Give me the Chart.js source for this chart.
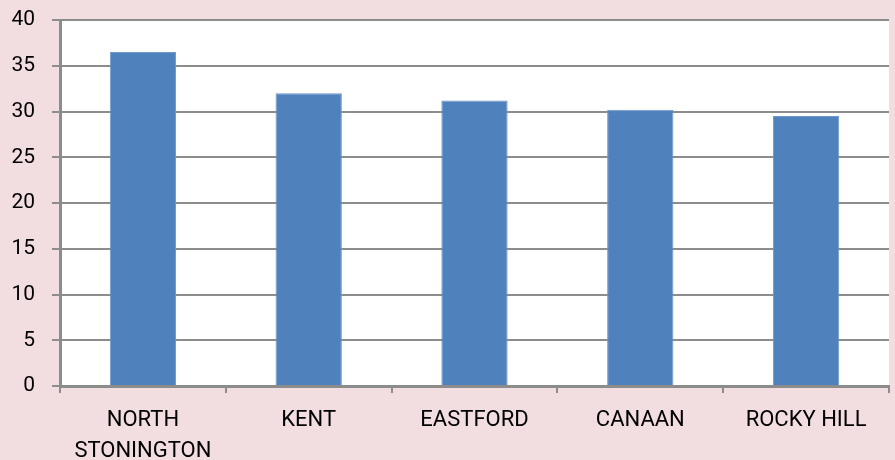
<!DOCTYPE html>
<html>
<head>
<meta charset="utf-8">
<script src="https://cdn.jsdelivr.net/npm/chart.js@4/dist/chart.umd.min.js"></script>
<style>
  html, body { margin: 0; padding: 0; background: #F2DDE1; }
  #wrap { width: 895px; height: 460px; position: relative; }
</style>
</head>
<body>
<div id="wrap"><canvas id="c" width="895" height="460"></canvas></div>
<script>
const categories = [["NORTH", "STONINGTON"], "KENT", "EASTFORD", "CANAAN", "ROCKY HILL"];
const values = [36.5, 32.0, 31.2, 30.2, 29.5];
const yTicks = [0, 5, 10, 15, 20, 25, 30, 35, 40];

const bgPlugin = {
  id: 'bg',
  beforeDraw(chart) {
    const { ctx, chartArea: a } = chart;
    ctx.save();
    ctx.fillStyle = '#F2DDE1';
    ctx.fillRect(0, 0, chart.width, chart.height);
    ctx.fillStyle = '#FFFFFF';
    ctx.fillRect(a.left, a.top, a.right - a.left, a.bottom - a.top);
    ctx.restore();
  }
};

const fam = 'Roboto, "Liberation Sans", Arial, sans-serif';

new Chart(document.getElementById('c'), {
  type: 'bar',
  data: {
    labels: categories,
    datasets: [{
      data: values,
      backgroundColor: '#4F81BD',
      borderColor: '#6F98CB',
      borderWidth: 1,
      barPercentage: 0.4,
      categoryPercentage: 1.0
    }]
  },
  options: {
    responsive: false,
    animation: false,
    devicePixelRatio: 1,
    layout: { padding: { top: 20, right: 6, left: 0, bottom: 0 } },
    plugins: { legend: { display: false }, tooltip: { enabled: false } },
    scales: {
      x: {
        offset: true,
        grid: { drawOnChartArea: false, drawTicks: true, tickLength: 7, color: '#8C8C8C', lineWidth: 2, offset: true },
        border: { display: true, color: '#8C8C8C', width: 3 },
        ticks: { color: '#000', font: { family: fam, size: 22, lineHeight: 1.4 }, padding: 12, maxRotation: 0, autoSkip: false },
        afterFit(s) { s.height = 74; s.paddingLeft = 0; s.paddingRight = 0; }
      },
      y: {
        min: 0, max: 40,
        afterBuildTicks(s) { s.ticks = yTicks.map(v => ({ value: v })); },
        grid: { color: '#8C8C8C', lineWidth: 2, drawTicks: true, tickLength: 8 },
        border: { display: true, color: '#8C8C8C', width: 3 },
        ticks: { color: '#000', font: { family: fam, size: 21 }, padding: 17 },
        afterFit(s) { s.width = 60; s.paddingTop = 0; s.paddingBottom = 0; }
      }
    }
  },
  plugins: [bgPlugin]
});
</script>
</body>
</html>
